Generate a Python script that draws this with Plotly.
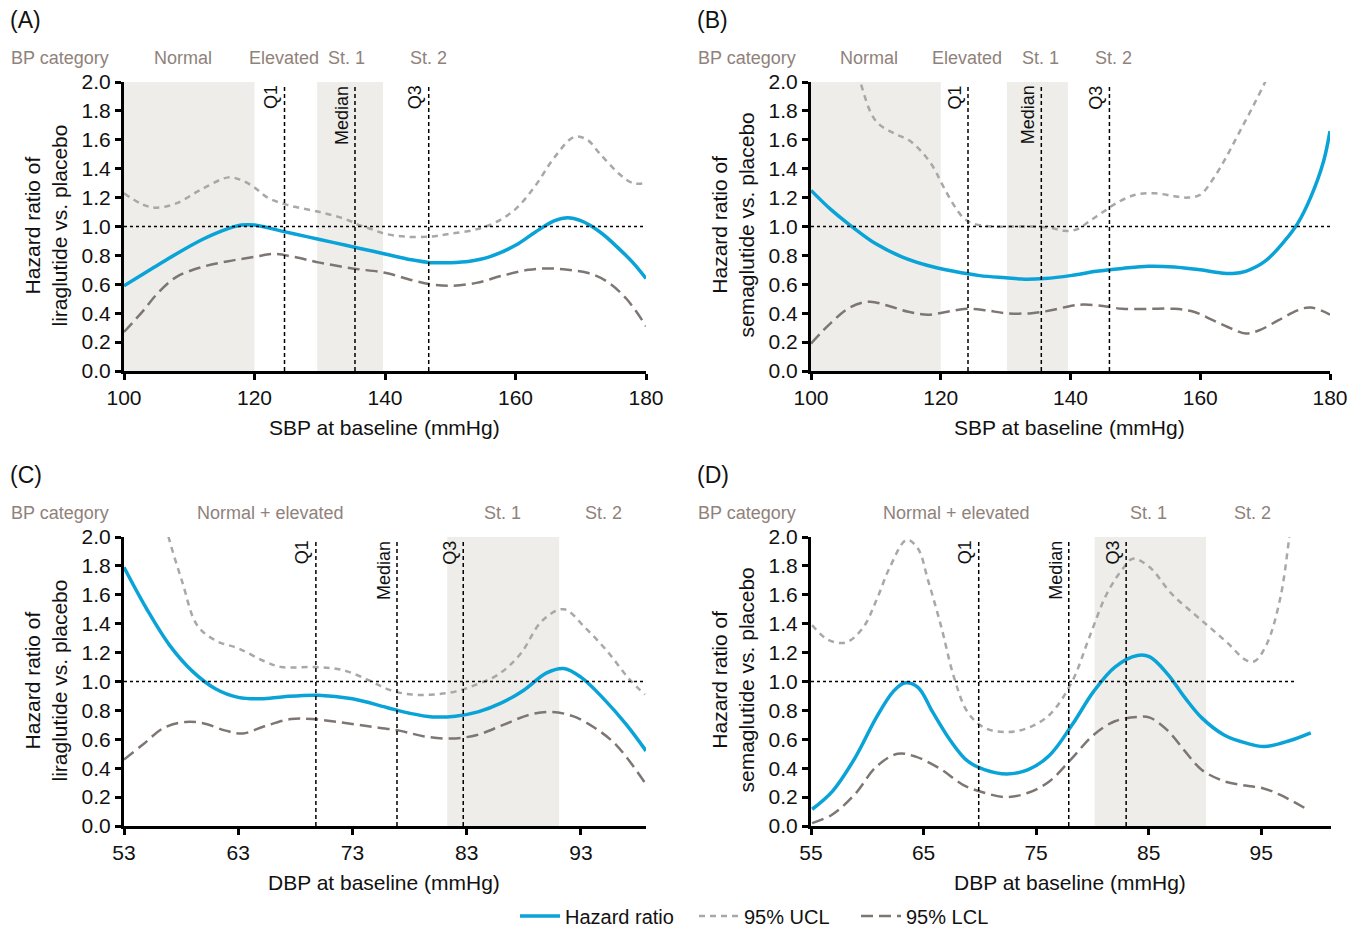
import plotly.graph_objects as go

# ---------------- data ----------------
# Panel A: SBP, liraglutide
a_hr_x = [100, 104, 108, 112, 115, 118, 120, 124, 128, 132, 136, 140, 144, 147, 150, 153, 156, 160, 163, 166, 168, 170, 173, 176, 178, 180]
a_hr_y = [0.59, 0.70, 0.81, 0.91, 0.97, 1.01, 1.01, 0.97, 0.93, 0.89, 0.85, 0.81, 0.77, 0.75, 0.75, 0.76, 0.79, 0.87, 0.96, 1.04, 1.06, 1.04, 0.96, 0.84, 0.75, 0.64]
a_ucl_x = [100, 103, 105, 108, 112, 116, 118, 120, 122, 125, 130, 134, 136, 138, 140, 143, 147, 150, 154, 157, 160, 163, 166, 169, 171, 173, 176, 178, 180]
a_ucl_y = [1.23, 1.15, 1.13, 1.16, 1.26, 1.34, 1.32, 1.27, 1.20, 1.15, 1.10, 1.05, 1.01, 0.98, 0.95, 0.93, 0.93, 0.95, 0.98, 1.03, 1.12, 1.28, 1.48, 1.62, 1.60, 1.50, 1.36, 1.30, 1.30]
a_lcl_x = [100, 103, 105, 108, 112, 116, 120, 123, 126, 130, 135, 140, 144, 147, 150, 154, 158, 162, 165, 168, 171, 174, 177, 180]
a_lcl_y = [0.27, 0.42, 0.53, 0.65, 0.72, 0.76, 0.79, 0.81, 0.79, 0.75, 0.71, 0.68, 0.63, 0.60, 0.59, 0.61, 0.66, 0.70, 0.71, 0.70, 0.68, 0.62, 0.50, 0.31]

# Panel B: SBP, semaglutide
b_hr_x = [100, 103, 106, 110, 114, 118, 122, 126, 130, 133, 136, 140, 144, 148, 152, 156, 160, 163, 165, 167, 170, 173, 175, 177, 179, 180]
b_hr_y = [1.25, 1.12, 1.01, 0.88, 0.79, 0.73, 0.69, 0.66, 0.645, 0.635, 0.64, 0.66, 0.69, 0.71, 0.725, 0.72, 0.70, 0.68, 0.675, 0.69, 0.76, 0.90, 1.02, 1.20, 1.45, 1.66]
b_ucl_x = [105, 107.6, 110, 113, 115, 117, 119, 120, 122, 123.5, 125, 128, 131, 134, 137, 139, 141, 143, 145, 147, 150, 153, 156, 158, 160, 162, 164, 166, 168, 170, 171]
b_ucl_y = [2.5, 2.0, 1.73, 1.64, 1.60, 1.52, 1.40, 1.31, 1.15, 1.06, 1.02, 1.00, 1.00, 1.00, 0.99, 0.97, 0.98, 1.04, 1.10, 1.16, 1.22, 1.23, 1.21, 1.20, 1.22, 1.33, 1.48, 1.65, 1.82, 2.0, 2.1]
b_lcl_x = [100, 103, 106, 109, 112, 115, 118, 121, 124, 127, 130, 134, 137, 140, 142, 145, 148, 152, 156, 159, 162, 165, 167, 169, 172, 175, 177, 180]
b_lcl_y = [0.19, 0.33, 0.44, 0.48, 0.45, 0.41, 0.39, 0.41, 0.43, 0.42, 0.40, 0.40, 0.42, 0.45, 0.46, 0.45, 0.43, 0.43, 0.43, 0.41, 0.35, 0.29, 0.26, 0.28, 0.35, 0.42, 0.44, 0.39]

# Panel C: DBP, liraglutide
c_hr_x = [53, 55, 57, 59, 61, 63, 65, 67, 70, 73, 76, 78, 80, 82, 84, 86, 88, 90, 91.5, 93, 95, 97, 98.7]
c_hr_y = [1.79, 1.50, 1.25, 1.07, 0.95, 0.89, 0.88, 0.895, 0.905, 0.88, 0.82, 0.78, 0.755, 0.76, 0.79, 0.85, 0.94, 1.06, 1.09, 1.03, 0.88, 0.70, 0.52]
c_ucl_x = [56, 56.9, 58.1, 59.4, 61.1, 63, 65.3, 66.8, 69.8, 72.1, 74.4, 76.3, 78.2, 80.1, 82, 83.9, 85.8, 87.7, 89.6, 91.5, 93.4, 95.3, 97.2, 98.6]
c_ucl_y = [2.3, 2.0, 1.69, 1.39, 1.28, 1.23, 1.14, 1.10, 1.10, 1.08, 1.01, 0.94, 0.91, 0.91, 0.93, 0.98, 1.05, 1.19, 1.42, 1.50, 1.37, 1.21, 1.02, 0.91]
c_lcl_x = [53, 54.6, 56.5, 58.4, 60, 61.9, 63.4, 65.3, 67.6, 69.5, 71.7, 74.4, 77.1, 79.3, 81.6, 83.9, 86.2, 88.5, 90.4, 92.3, 94.2, 96.1, 98.6]
c_lcl_y = [0.46, 0.56, 0.68, 0.72, 0.71, 0.66, 0.64, 0.69, 0.74, 0.74, 0.72, 0.69, 0.66, 0.62, 0.605, 0.63, 0.70, 0.77, 0.79, 0.76, 0.68, 0.56, 0.30]

# Panel D: DBP, semaglutide
d_hr_x = [55.1, 56.9, 58.9, 60.8, 62.3, 63.3, 64.5, 65.8, 67.4, 68.9, 70.4, 72.4, 74.3, 76.2, 78.2, 80.1, 82, 84, 85.1, 86.7, 88.2, 89.7, 91.7, 93.6, 95.3, 97.5, 99.4]
d_hr_y = [0.116, 0.24, 0.47, 0.75, 0.93, 0.99, 0.96, 0.79, 0.59, 0.45, 0.39, 0.36, 0.39, 0.49, 0.70, 0.93, 1.10, 1.18, 1.17, 1.05, 0.89, 0.75, 0.63, 0.575, 0.55, 0.59, 0.645]
d_ucl_x = [55.1, 56.5, 58.1, 59.6, 60.8, 62, 63.5, 64.5, 65.4, 66.6, 67.7, 68.9, 70.4, 72.4, 74.3, 76.2, 78.2, 79.7, 81.3, 82.8, 83.6, 85.1, 87, 89, 90.5, 92.1, 93.6, 94.4, 95.5, 96.7, 97.5, 98]
d_ucl_y = [1.39, 1.29, 1.27, 1.37, 1.56, 1.79, 1.98, 1.92, 1.70, 1.37, 1.03, 0.79, 0.68, 0.65, 0.68, 0.77, 1.00, 1.30, 1.61, 1.79, 1.85, 1.79, 1.61, 1.47, 1.37, 1.26, 1.15, 1.14, 1.26, 1.58, 2.0, 2.3]
d_lcl_x = [55.1, 56.9, 58.9, 60.8, 62.7, 64.3, 66.6, 68.5, 70.4, 72.4, 74.3, 76.2, 78.2, 80.1, 82, 84, 85.1, 86.7, 88.2, 89.7, 91.7, 93.6, 95.2, 96.7, 99.2]
d_lcl_y = [0.02, 0.08, 0.22, 0.41, 0.50, 0.48, 0.39, 0.285, 0.23, 0.20, 0.23, 0.31, 0.47, 0.63, 0.725, 0.755, 0.75, 0.66, 0.52, 0.39, 0.31, 0.28, 0.26, 0.215, 0.11]

# category bands, quartiles, labels
a_bands = [(100, 120), (129.6, 139.7)]
b_bands = [(100, 120), (130.2, 139.6)]
c_bands = [(81.3, 91.1)]
d_bands = [(80.2, 90.1)]
a_quart = {"Q1": 124.6, "Median": 135.4, "Q3": 146.7}
b_quart = {"Q1": 124.2, "Median": 135.5, "Q3": 146.0}
c_quart = {"Q1": 69.8, "Median": 76.9, "Q3": 82.7}
d_quart = {"Q1": 69.9, "Median": 77.9, "Q3": 83.0}
a_cats = [("Normal", 109.0), ("Elevated", 124.5), ("St. 1", 134.1), ("St. 2", 146.6)]
b_cats = [("Normal", 109.0), ("Elevated", 124.0), ("St. 1", 135.3), ("St. 2", 146.7)]
c_cats = [("Normal + elevated", 65.8), ("St. 1", 86.1), ("St. 2", 95.0)]
d_cats = [("Normal + elevated", 67.9), ("St. 1", 85.0), ("St. 2", 94.2)]

y_ticks = [0.0, 0.2, 0.4, 0.6, 0.8, 1.0, 1.2, 1.4, 1.6, 1.8, 2.0]
a_xticks = [100, 120, 140, 160, 180]
c_xticks = [53, 63, 73, 83, 93]
d_xticks = [55, 65, 75, 85, 95]

series_names = ["Hazard ratio", "95% UCL", "95% LCL"]

# ---------------- styling ----------------
W, H = 1362, 931          # browser window
OFF = 8                   # default page (body) margin
FW, FH = W - OFF, H - OFF # figure size so that the figure ends at the window edge
FONT = "Liberation Sans, Arial, Helvetica, sans-serif"
BLUE = "#0aa3d8"
UCL_C = "#a9a7a7"
LCL_C = "#7e7672"
SHADE = "#eeede9"
CAT_C = "#8f827b"
TXT = "#111111"

def px_x(p):
    return (p - OFF) / FW

def px_y(p):
    return 1 - (p - OFF) / FH

panels = [
    dict(name="A", x=(124, 646), y=(82, 371), xr=[100, 180], xt=a_xticks,
         hr=(a_hr_x, a_hr_y), ucl=(a_ucl_x, a_ucl_y), lcl=(a_lcl_x, a_lcl_y),
         bands=a_bands, quart=a_quart, cats=a_cats, hline_end=180,
         xtitle="SBP at baseline (mmHg)", drug="liraglutide"),
    dict(name="B", x=(811, 1330), y=(82, 371), xr=[100, 180], xt=a_xticks,
         hr=(b_hr_x, b_hr_y), ucl=(b_ucl_x, b_ucl_y), lcl=(b_lcl_x, b_lcl_y),
         bands=b_bands, quart=b_quart, cats=b_cats, hline_end=180,
         xtitle="SBP at baseline (mmHg)", drug="semaglutide"),
    dict(name="C", x=(124, 646), y=(537, 826), xr=[53, 98.7], xt=c_xticks,
         hr=(c_hr_x, c_hr_y), ucl=(c_ucl_x, c_ucl_y), lcl=(c_lcl_x, c_lcl_y),
         bands=c_bands, quart=c_quart, cats=c_cats, hline_end=98.7,
         xtitle="DBP at baseline (mmHg)", drug="liraglutide"),
    dict(name="D", x=(811, 1331), y=(537, 826), xr=[55, 101.2], xt=d_xticks,
         hr=(d_hr_x, d_hr_y), ucl=(d_ucl_x, d_ucl_y), lcl=(d_lcl_x, d_lcl_y),
         bands=d_bands, quart=d_quart, cats=d_cats, hline_end=98.0,
         xtitle="DBP at baseline (mmHg)", drug="semaglutide"),
]

fig = go.Figure()
legend_common = dict(orientation="h", yanchor="middle", xanchor="left", y=px_y(916),
                     font=dict(size=20, family=FONT, color=TXT), itemwidth=40,
                     bgcolor="rgba(0,0,0,0)", borderwidth=0)
layout = dict(
    width=FW, height=FH, autosize=False,
    margin=dict(l=0, r=0, t=0, b=0, pad=0, autoexpand=False),
    paper_bgcolor="white", plot_bgcolor="white",
    font=dict(family=FONT, color=TXT),
    shapes=[], annotations=[],
    legend=dict(x=px_x(515), **legend_common),
    legend2=dict(x=px_x(694), **legend_common),
    legend3=dict(x=px_x(856), **legend_common),
)

for i, p in enumerate(panels):
    n = "" if i == 0 else str(i + 1)
    xa, ya = "x" + n, "y" + n
    layout["xaxis" + n] = dict(
        domain=[px_x(p["x"][0]), px_x(p["x"][1])], range=p["xr"], anchor=ya,
        tickvals=p["xt"], ticks="outside", ticklen=6, tickwidth=3, tickcolor="black",
        showline=True, linewidth=3, linecolor="black", showgrid=False, zeroline=False,
        automargin=False, tickfont=dict(size=21, family=FONT, color=TXT),
    )
    layout["yaxis" + n] = dict(
        domain=[px_y(p["y"][1]), px_y(p["y"][0])], range=[0, 2.0], anchor=xa,
        tickvals=y_ticks, tickformat=".1f", ticks="outside", ticklen=6, tickwidth=3,
        tickcolor="black", showline=True, linewidth=3, linecolor="black",
        showgrid=False, zeroline=False, automargin=False,
        tickfont=dict(size=21, family=FONT, color=TXT),
    )
    # shaded bands
    for (x0, x1) in p["bands"]:
        layout["shapes"].append(dict(type="rect", xref=xa, yref=ya, x0=x0, x1=x1, y0=0, y1=2.0,
                                     fillcolor=SHADE, line=dict(width=0), layer="below"))
    # reference line at HR = 1
    layout["shapes"].append(dict(type="line", xref=xa, yref=ya, x0=p["xr"][0], x1=p["hline_end"],
                                 y0=1.0, y1=1.0, line=dict(color="black", width=1.5, dash="3px,3px")))
    # quartile lines
    for lab, xv in p["quart"].items():
        layout["shapes"].append(dict(type="line", xref=xa, yref=ya, x0=xv, x1=xv, y0=0, y1=1.98,
                                     line=dict(color="black", width=1.5, dash="4px,3px")))
        layout["annotations"].append(dict(text=lab, xref=xa, yref=ya, x=xv, y=1.99, textangle=-90,
                                          xanchor="right", yanchor="top", showarrow=False,
                                          xshift=-1, font=dict(size=18, family=FONT, color=TXT)))
    # BP category labels
    cat_y = px_y(p["y"][0] - 24)
    layout["annotations"].append(dict(text="BP category", xref="paper", yref="paper",
                                      x=px_x(p["x"][0] - 115), y=cat_y, xanchor="left", yanchor="middle",
                                      showarrow=False, font=dict(size=18, family=FONT, color=CAT_C)))
    for lab, xv in p["cats"]:
        layout["annotations"].append(dict(text=lab, xref=xa, yref="paper", x=xv, y=cat_y,
                                          xanchor="center", yanchor="middle", showarrow=False,
                                          font=dict(size=18, family=FONT, color=CAT_C)))
    # panel letter
    layout["annotations"].append(dict(text="(" + p["name"] + ")", xref="paper", yref="paper",
                                      x=px_x(p["x"][0] - 116), y=px_y(p["y"][0] - 62), xanchor="left",
                                      yanchor="middle", showarrow=False,
                                      font=dict(size=23, family=FONT, color=TXT)))
    # x-axis title
    layout["annotations"].append(dict(text=p["xtitle"], xref="paper", yref="paper",
                                      x=px_x((p["x"][0] + p["x"][1]) / 2 - 1), y=px_y(p["y"][1] + 56),
                                      xanchor="center", yanchor="middle", showarrow=False,
                                      font=dict(size=21, family=FONT, color=TXT)))
    # y-axis title
    layout["annotations"].append(dict(text="Hazard ratio of<br>" + p["drug"] + " vs. placebo",
                                      xref="paper", yref="paper", x=px_x(p["x"][0] - 79),
                                      y=px_y((p["y"][0] + p["y"][1]) / 2 - 1), textangle=-90,
                                      xanchor="center", yanchor="middle", showarrow=False,
                                      font=dict(size=21, family=FONT, color=TXT)))

    show = (i == 0)
    fig.add_trace(go.Scatter(x=p["hr"][0], y=p["hr"][1], mode="lines", xaxis=xa, yaxis=ya,
                             line=dict(color=BLUE, width=3.5, shape="spline", smoothing=1.0),
                             name=series_names[0], showlegend=show, legend="legend"))
    fig.add_trace(go.Scatter(x=p["ucl"][0], y=p["ucl"][1], mode="lines", xaxis=xa, yaxis=ya,
                             line=dict(color=UCL_C, width=2.5, dash="6px,5px", shape="spline", smoothing=1.0),
                             name=series_names[1], showlegend=show, legend="legend2"))
    fig.add_trace(go.Scatter(x=p["lcl"][0], y=p["lcl"][1], mode="lines", xaxis=xa, yaxis=ya,
                             line=dict(color=LCL_C, width=2.5, dash="12px,6px", shape="spline", smoothing=1.0),
                             name=series_names[2], showlegend=show, legend="legend3"))

fig.update_layout(**layout)
fig.write_html("out.html")
